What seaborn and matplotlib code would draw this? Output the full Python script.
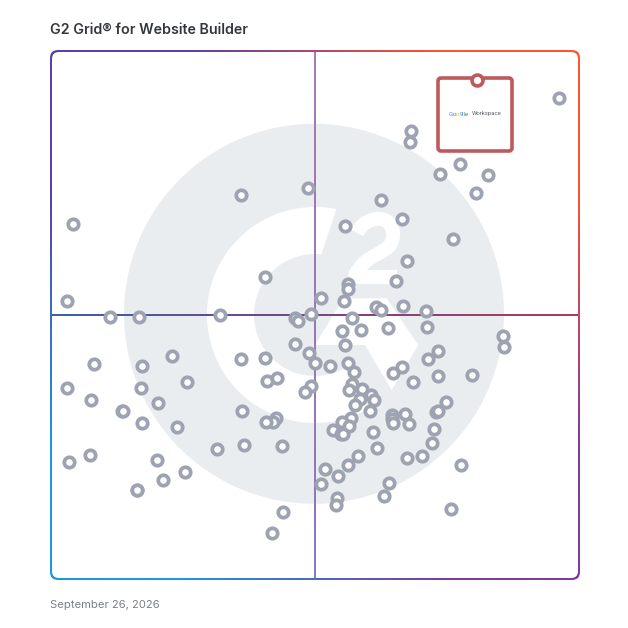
import numpy as np
import matplotlib
matplotlib.use("Agg")
import matplotlib.pyplot as plt
from matplotlib.colors import LinearSegmentedColormap, to_rgb
from matplotlib.patches import Circle, FancyBboxPatch, Polygon, PathPatch
from matplotlib.path import Path
import pandas as pd
import seaborn as sns

TITLE = "G2 Grid® for Website Builder"
DATE = "September 26, 2026"

market_x = [559,73,67,110,94,67,91,122,69,90,137,
 411.3,410,460,440,488.3,476,240.7,307.7,380.7,401.7,345.3,452.7,406.7,265,395.7,348.3,348,320.7,344.3,
 376,380.7,402.7,425.7,139.3,220,295,298.3,310.7,351.7,341.7,361.3,387.7,427,503,504.3,345,295.3,308.7,315,
 330.3,347.7,354.3,241,265.3,172,142.3,437.7,427.7,401.7,393.3,438,472.3,412.7,186.7,141.3,267,276.7,311,305.3,
 352.3,349,361.7,370.7,374.3,360.3,354.7,370,445.7,436,438,158,123.3,242,275.7,272.7,266,142,177,391.7,
 391.7,393.3,405.3,408.7,351.3,342,348.7,333.3,341,342.7,372.7,434,432,376.7,243.7,216.7,282.3,406.7,421.7,358,
 347.7,325,337.7,321,157.3,185.3,163,137.3,461.3,389,383.7,337.3,336,451,283.3,272]
market_y = [98,224,301,317,364,388,400,411,462,455,490,
 131.3,142,164,174,174.7,192.7,195,188.3,200.3,218.7,226,239,261,277,280.7,284.3,288.7,298,301,
 307.3,310.3,305.7,310.7,317,315,318.3,321.3,313.7,318.3,331.3,330,328.3,327,335.7,347.3,345,344,353.3,363.3,
 365.7,363.3,372,359.3,358.3,355.7,366.3,350.7,358.7,367.3,373,375.7,375,381.7,382.3,388.3,380.7,378.3,385.7,391.7,
 384,390.3,389,395,400.3,399.3,405,411.3,402,411.7,411,403.3,411.3,411,418,422,422,423,427,414.7,
 419,423.3,414,424.3,417.7,422.3,426.3,430,434,434,432.3,428.7,443,448.3,445.3,449,446.3,457.7,455.7,455.7,
 465,468.7,476.3,484,460,472,479.7,489.7,465,483.3,496.3,498.3,505,509,512,533]
leader_x = [476.5]
leader_y = [80]

sns.set_theme(style="white")
plt.rcParams["font.family"] = ["Inter", "DejaVu Sans"]

fig = plt.figure(figsize=(6.28, 6.28), dpi=100, facecolor="white")
L, R = 41, 589
ax = fig.add_axes([L / 628, 1 - R / 628, (R - L) / 628, (R - L) / 628])
ax.axis("off")

# frame: bilinear four-corner gradient under a white inner panel
corners = np.array([[to_rgb("#5A3FAA"), to_rgb("#FF5530")],
                    [to_rgb("#1E98D6"), to_rgb("#7E3CA0")]])
grad = ax.imshow(corners, extent=(50, 580, 580, 50), interpolation="bilinear",
                 aspect="auto", zorder=1)
outer = FancyBboxPatch((58, 58), 514, 514, boxstyle="round,pad=8,rounding_size=8",
                       fc="none", ec="none", zorder=1)
ax.add_patch(outer)
grad.set_clip_path(outer)
ax.add_patch(FancyBboxPatch((59, 59), 512, 512, boxstyle="round,pad=7,rounding_size=7",
                            fc="white", ec="none", zorder=2))

# watermark
GRAY = "#EAEDF0"
ax.add_patch(Circle((314, 313.8), 190, fc=GRAY, ec="none", zorder=3))
cx, cy = 315, 315
t_out = np.radians(np.linspace(78.6, 300, 120))
t_in = np.radians(np.linspace(300, 84, 120))
ring = np.r_[np.c_[cx + 108 * np.cos(t_out), cy - 108 * np.sin(t_out)],
             np.c_[cx + 61 * np.cos(t_in), cy - 61 * np.sin(t_in)]]
ax.add_patch(Polygon(ring, closed=True, fc="white", ec="none", zorder=4))
ax.add_patch(Polygon([(343.3, 298.3), (386.7, 298.3), (418.3, 345), (391.7, 390), (365, 345), (315, 345)],
                     closed=True, fc="white", ec="none", zorder=4))
two = Path([(357, 233), (362, 222), (373, 218), (381, 219), (395, 221), (395, 238), (390, 245),
            (384, 253), (366, 257), (360, 268), (353, 275), (355, 277), (361, 277), (361, 277), (397, 277)],
           [Path.MOVETO, Path.CURVE4, Path.CURVE4, Path.CURVE4, Path.CURVE4, Path.CURVE4, Path.CURVE4,
            Path.CURVE4, Path.CURVE4, Path.CURVE4, Path.CURVE4, Path.CURVE4, Path.CURVE4, Path.LINETO, Path.LINETO])
ax.add_patch(PathPatch(two, fc="none", ec="white", lw=10, capstyle="butt", joinstyle="miter", zorder=4))

# cross lines
hcmap = LinearSegmentedColormap.from_list("h", ["#3D5FB0", "#7A4488", "#B23A58"])
vcmap = LinearSegmentedColormap.from_list("v", ["#A87CB0", "#9A78B8", "#8A78C4"])
ax.imshow(np.linspace(0, 1, 256)[None, :], cmap=hcmap, extent=(52, 578, 315.9, 314.1),
          aspect="auto", interpolation="bilinear", zorder=5)
ax.imshow(np.linspace(0, 1, 256)[:, None], cmap=vcmap, extent=(314.1, 315.9, 578, 52),
          aspect="auto", interpolation="bilinear", zorder=5)

# points
df = pd.DataFrame({"market": market_x, "satisfaction": market_y})
sns.scatterplot(data=df, x="market", y="satisfaction", ax=ax, s=56, color="white",
                edgecolor="#9DA3B1", linewidth=2.7, zorder=6, legend=False)

# leader card
RED = "#BE5A5E"
ax.add_patch(FancyBboxPatch((441, 81), 68, 67, boxstyle="round,pad=3,rounding_size=3",
                            fc="white", ec=RED, lw=2.6, zorder=7))
sns.scatterplot(x=leader_x, y=leader_y, ax=ax, s=62, color="white", edgecolor=RED,
                linewidth=2.6, zorder=8, legend=False)
letter_x = [448.5, 452.4, 455.9, 459.4, 463.0, 465.0]
for x0, ch, col in zip(letter_x, "Google", ["#4285F4", "#EA4335", "#FBBC05", "#4285F4", "#34A853", "#EA4335"]):
    ax.text(x0, 114, ch, color=col, fontsize=4.4, va="center", ha="left",
            family=["Roboto", "DejaVu Sans"], zorder=9)
ax.text(471.5, 114, "Workspace", color="#5F6368", fontsize=4.3, va="center", ha="left",
        family=["Roboto", "DejaVu Sans"], zorder=9)

ax.set_xlim(L, R)
ax.set_ylim(R, L)
ax.set_xlabel("")
ax.set_ylabel("")

fig.text(50 / 628, 1 - 29.5 / 628, TITLE, fontsize=10.25, fontweight=600, color="#33363B", va="center", ha="left")
fig.text(50 / 628, 1 - 604.5 / 628, DATE, fontsize=8.1, color="#7A7F87", va="center", ha="left")

fig.savefig("out.png", dpi=100, facecolor="white")
